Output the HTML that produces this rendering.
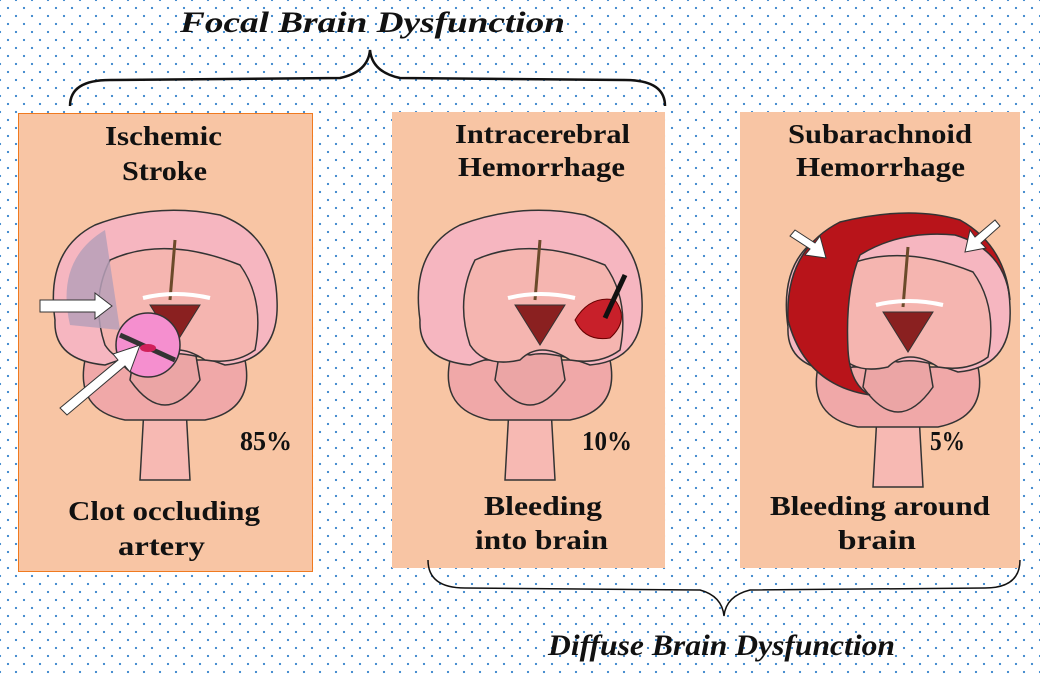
<!DOCTYPE html>
<html><head><meta charset="utf-8"><style>
body{margin:0;width:1040px;height:678px;overflow:hidden;background:#fff;
background-image:radial-gradient(circle,#4a8fd0 1.1px,transparent 1.3px),radial-gradient(circle,#4a8fd0 1.1px,transparent 1.3px);
background-size:16px 16px;background-position:0 0,8px 8px;}
</style></head><body>
<svg width="1040" height="678" viewBox="0 0 1040 678" style="position:absolute;left:0;top:0" font-family="'Liberation Serif',serif">
<defs>
<g id="brain">
 <path d="M-20,70 L-25,160 L25,160 L20,70 Z" fill="#f7b9b3" stroke="#333" stroke-width="1.5"/>
 <path d="M-80,40 Q-90,90 -40,100 L40,100 Q90,90 80,40 Z" fill="#f0a8a8" stroke="#333" stroke-width="1.5"/>
 <path d="M-35,60 Q0,110 35,60 L30,30 L-30,30 Z" fill="#eba5a5" stroke="#333" stroke-width="1.5"/>
 <path d="M-110,0 Q-120,-70 -70,-95 Q-10,-118 55,-105 Q110,-85 112,-20 Q115,40 60,45 Q20,30 0,35 Q-20,30 -60,45 Q-112,40 -110,0 Z" fill="#f6b6c0" stroke="#333" stroke-width="1.5"/>
 <path d="M-55,-60 Q0,-85 75,-55 Q100,-20 90,30 Q70,45 40,40 Q10,20 -10,40 Q-45,48 -60,25 Q-75,-20 -55,-60 Z" fill="#f5b5b0" stroke="#333" stroke-width="1.5"/>
 <path d="M10,-80 L5,-20" stroke="#6b4a2a" stroke-width="3"/>
 <path d="M-22,-22 Q10,-30 45,-22" stroke="#fff" stroke-width="4" fill="none"/>
 <path d="M-15,-15 L10,25 L35,-15 Z" fill="#8a2020" stroke="#333"/>
</g>
</defs>
<rect x="18.5" y="113.5" width="294" height="458" fill="#f8c5a4" stroke="#f07a20"/>
<rect x="392" y="112" width="273" height="456" fill="#f8c5a4"/>
<rect x="740" y="112" width="280" height="456" fill="#f8c5a4"/>

<use href="#brain" x="165" y="320"/>
<path d="M70,325 Q55,260 105,230 L120,330 Z" fill="#b7a0b8" opacity="0.85"/>
<circle cx="148" cy="345" r="32" fill="#f58fcf" stroke="#333" stroke-width="1.5"/>
<path d="M120,335 L175,360" stroke="#333" stroke-width="5"/><ellipse cx="148" cy="348" rx="8" ry="4" fill="#d0205a"/>
<path d="M40,300 L95,300 L95,293 L112,306 L95,319 L95,312 L40,312 Z" fill="#fff" stroke="#333"/>
<path d="M60,408 L118,360 L113,354 L140,345 L130,372 L125,366 L67,415 Z" fill="#fff" stroke="#333"/>

<use href="#brain" x="530" y="320"/>
<path d="M575,320 Q590,295 615,300 Q630,320 610,338 Q585,342 575,320 Z" fill="#c8202a" stroke="#600"/>
<path d="M625,275 L605,318" stroke="#111" stroke-width="5"/>

<use href="#brain" x="898" y="327"/>
<path d="M788,320 Q785,250 840,222 Q910,205 960,220 Q1005,245 1010,300 Q1005,250 955,235 Q900,230 860,255 Q845,290 848,350 Q850,385 870,395 Q805,385 788,320 Z" fill="#b8141a" stroke="#333" stroke-width="1.5"/>
<path d="M795,230 L815,243 L820,236 L826,258 L805,255 L810,249 L790,236 Z" fill="#fff" stroke="#333"/>
<path d="M995,220 L975,237 L970,230 L965,252 L986,248 L981,243 L1000,226 Z" fill="#fff" stroke="#333"/>

<g font-weight="bold" font-size="27" fill="#111" lengthAdjust="spacingAndGlyphs">
<text x="105" y="145" textLength="117" lengthAdjust="spacingAndGlyphs">Ischemic</text><text x="122" y="180" textLength="85" lengthAdjust="spacingAndGlyphs">Stroke</text>
<text x="455" y="143" textLength="175" lengthAdjust="spacingAndGlyphs">Intracerebral</text><text x="458" y="176" textLength="167" lengthAdjust="spacingAndGlyphs">Hemorrhage</text>
<text x="788" y="143" textLength="184" lengthAdjust="spacingAndGlyphs">Subarachnoid</text><text x="796" y="176" textLength="169" lengthAdjust="spacingAndGlyphs">Hemorrhage</text>
<text x="68" y="520" textLength="192" lengthAdjust="spacingAndGlyphs">Clot occluding</text><text x="118" y="555" textLength="87" lengthAdjust="spacingAndGlyphs">artery</text>
<text x="484" y="515" textLength="118" lengthAdjust="spacingAndGlyphs">Bleeding</text><text x="475" y="549" textLength="133" lengthAdjust="spacingAndGlyphs">into brain</text>
<text x="770" y="515" textLength="220" lengthAdjust="spacingAndGlyphs">Bleeding around</text><text x="838" y="549" textLength="78" lengthAdjust="spacingAndGlyphs">brain</text>
<text x="240" y="450" textLength="52" lengthAdjust="spacingAndGlyphs">85%</text><text x="582" y="450" textLength="50" lengthAdjust="spacingAndGlyphs">10%</text><text x="930" y="450" textLength="35" lengthAdjust="spacingAndGlyphs">5%</text>
</g>
<g font-weight="bold" font-style="italic" font-size="30" fill="#111">
<text x="180" y="32" textLength="385" lengthAdjust="spacingAndGlyphs">Focal Brain Dysfunction</text>
<text x="548" y="655" textLength="347" lengthAdjust="spacingAndGlyphs">Diffuse Brain Dysfunction</text>
</g>
<path d="M70,106 Q70,80 110,80 L340,78 Q368,72 370,50 Q372,72 400,78 L625,80 Q665,80 665,106" fill="none" stroke="#111" stroke-width="2.5"/>
<path d="M428,560 Q428,588 465,588 L700,590 Q722,596 724,616 Q726,596 750,590 L985,588 Q1020,588 1020,560" fill="none" stroke="#111" stroke-width="1.5"/>
</svg>
</body></html>
